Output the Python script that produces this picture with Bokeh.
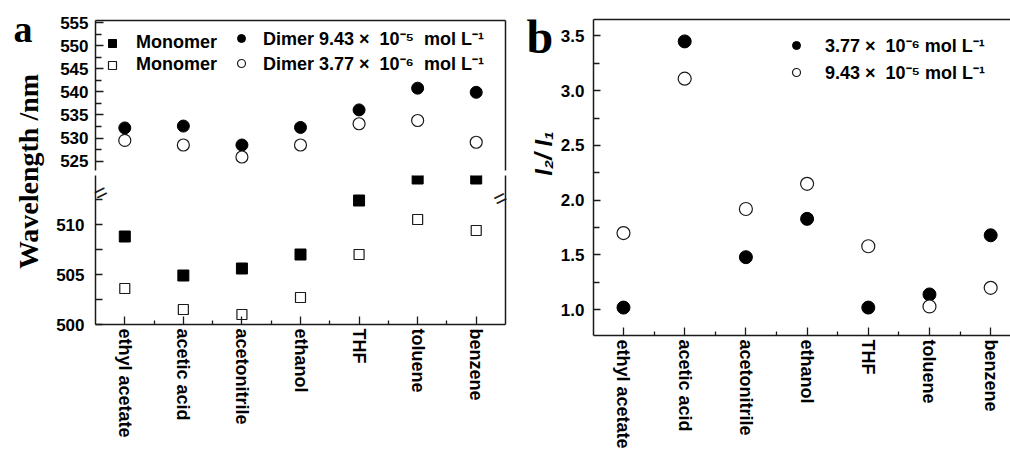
import math
from bokeh.plotting import figure
from bokeh.models import (ColumnDataSource, Range1d, FixedTicker, LinearAxis, Legend,
                          LegendItem, Label, NumeralTickFormatter)
from bokeh.layouts import row, column
from bokeh.embed import file_html
from bokeh.resources import INLINE

# ---------------- data ----------------
solvents = ["ethyl acetate", "acetic acid", "acetonitrile", "ethanol", "THF", "toluene", "benzene"]
monomer_943 = [508.8, 504.9, 505.6, 507.0, 512.4, 514.6, 514.6]
monomer_377 = [503.6, 501.5, 501.0, 502.7, 507.0, 510.5, 509.4]
dimer_943 = [532.2, 532.6, 528.5, 532.3, 536.1, 540.8, 539.9]
dimer_377 = [529.5, 528.5, 525.9, 528.5, 533.1, 533.8, 529.1]
ratio_377 = [1.02, 3.45, 1.48, 1.83, 1.02, 1.14, 1.68]
ratio_943 = [1.70, 3.11, 1.92, 2.15, 1.58, 1.03, 1.20]

wl_low_range = (500, 514.9)
wl_high_range = (522.98, 555.45)
wl_ticks_low = [500, 505, 510]
wl_minor_low = [502.5, 507.5, 512.5]
wl_ticks_high = [525, 530, 535, 540, 545, 550, 555]
wl_minor_high = [527.5, 532.5, 537.5, 542.5, 547.5, 552.5]
ratio_range = (0.765, 3.65)
ratio_ticks = [1.0, 1.5, 2.0, 2.5, 3.0, 3.5]
ratio_minor = [1.25, 1.75, 2.25, 2.75, 3.25]

lbl_mono = "Monomer"
lbl_d943 = "Dimer 9.43 \u00d7  10\u207b\u2075  mol L\u207b\u00b9"
lbl_d377 = "Dimer 3.77 \u00d7  10\u207b\u2076  mol L\u207b\u00b9"
lbl_r377 = "3.77 \u00d7  10\u207b\u2076 mol L\u207b\u00b9"
lbl_r943 = "9.43 \u00d7  10\u207b\u2075 mol L\u207b\u00b9"

idx = list(range(len(solvents)))
mid = [i + 0.5 for i in idx[:-1]]
src = ColumnDataSource(dict(x=idx, m943=monomer_943, m377=monomer_377,
                            d943=dimer_943, d377=dimer_377,
                            r377=ratio_377, r943=ratio_943))

SANS = "Liberation Sans"
SERIF = "Liberation Serif"
INK = "#1a1a1a"
H = 450
common = dict(output_backend="svg", toolbar_location=None, outline_line_color=None,
              background_fill_color="white", border_fill_color="white")


def style_axis(ax, tick_in=8, minor_in=6, size="17px"):
    ax.axis_line_color = INK
    ax.axis_line_width = 1.5
    ax.major_tick_line_color = INK
    ax.minor_tick_line_color = INK
    ax.major_tick_line_width = 1.3
    ax.minor_tick_line_width = 1.3
    ax.major_tick_in = tick_in
    ax.major_tick_out = 0
    ax.minor_tick_in = minor_in
    ax.minor_tick_out = 0
    ax.major_label_text_font = SANS
    ax.major_label_text_font_style = "bold"
    ax.major_label_text_font_size = size
    ax.major_label_text_color = "black"


def bare_axis():
    return LinearAxis(ticker=FixedTicker(ticks=[]), major_tick_in=0, major_tick_out=0,
                      minor_tick_in=0, minor_tick_out=0, major_label_standoff=0,
                      axis_line_color=INK, axis_line_width=1.5)


def break_axis():
    # axis without line/ticks whose only label is the "//" break symbol,
    # centred on the frame edge at the top of the lower range
    pos = wl_low_range[1] - 0.01
    return LinearAxis(ticker=FixedTicker(ticks=[pos]), major_label_overrides={pos: "="},
                      major_label_orientation=0.46, major_label_standoff=-11,
                      major_label_text_font=SANS, major_label_text_font_size="22px",
                      major_label_text_color=INK, axis_line_color=None,
                      major_tick_in=0, major_tick_out=0, minor_tick_in=0, minor_tick_out=0)


def text_fig(width):
    f = figure(frame_width=width, frame_height=H, min_border=0, x_range=Range1d(0, 1),
               y_range=Range1d(0, 1), x_axis_location=None, y_axis_location=None, **common)
    f.grid.visible = False
    return f


# ---------------- panel a texts ----------------
lab_a = text_fig(52)
lab_a.add_layout(Label(x=13, y=H - 9, x_units="screen", y_units="screen", text="a",
                       text_font=SERIF, text_font_style="bold", text_font_size="38px",
                       text_color="black", text_align="left", text_baseline="middle"))
lab_a.add_layout(Label(x=28, y=H - 152, x_units="screen", y_units="screen",
                       text="Wavelength /nm", angle=math.pi / 2, text_align="center",
                       text_baseline="middle", text_font=SERIF, text_font_style="bold",
                       text_font_size="28px", text_color="black"))

# ---------------- panel a: upper part ----------------
xr = Range1d(-0.5, 6.5)
up = figure(frame_width=410, frame_height=150, x_range=xr, y_range=Range1d(*wl_high_range),
            x_axis_location=None, min_border_left=43, min_border_right=12,
            min_border_top=20, min_border_bottom=1, **common)
up.grid.visible = False
up.yaxis.ticker = FixedTicker(ticks=wl_ticks_high, minor_ticks=wl_minor_high)
up.yaxis.major_label_standoff = 7
style_axis(up.yaxis[0])
up.add_layout(bare_axis(), "above")
up.add_layout(bare_axis(), "right")

# ---------------- panel a: lower part ----------------
lo = figure(frame_width=410, frame_height=149, x_range=xr, y_range=Range1d(*wl_low_range),
            min_border_left=43, min_border_right=12, min_border_top=4,
            min_border_bottom=H - 324, **common)
lo.grid.visible = False
# inner axis: axis line and tick marks only
ax_in = lo.yaxis[0]
ax_in.ticker = FixedTicker(ticks=[], minor_ticks=sorted(wl_ticks_low + wl_minor_low))
style_axis(ax_in, tick_in=7, minor_in=7)
ax_in.major_label_standoff = 0
# middle axis: the break symbol; outer axis: the numbers
lo.add_layout(break_axis(), "left")
ax_num = LinearAxis(ticker=FixedTicker(ticks=wl_ticks_low), major_label_standoff=-4)
style_axis(ax_num)
ax_num.axis_line_color = None
ax_num.major_tick_in = 0
ax_num.minor_tick_in = 0
lo.add_layout(ax_num, "left")

lo.xaxis.ticker = FixedTicker(ticks=idx, minor_ticks=mid)
lo.xaxis.major_label_overrides = {i: s for i, s in zip(idx, solvents)}
lo.xaxis.major_label_orientation = "vertical"
lo.xaxis.major_label_standoff = 4
style_axis(lo.xaxis[0], tick_in=8, minor_in=4, size="18px")
lo.add_layout(bare_axis(), "right")
lo.add_layout(break_axis(), "right")

# every series is drawn on both halves of the broken axis; each half clips to its range
rend = {}
for half, p in (("up", up), ("lo", lo)):
    rend[half, "m943"] = p.scatter("x", "m943", source=src, marker="square", size=11,
                                   fill_color="black", line_color="black")
    rend[half, "m377"] = p.scatter("x", "m377", source=src, marker="square", size=10,
                                   fill_color="white", line_color=INK, line_width=1.2)
    rend[half, "d943"] = p.scatter("x", "d943", source=src, marker="circle", size=12,
                                   fill_color="black", line_color="black")
    rend[half, "d377"] = p.scatter("x", "d377", source=src, marker="circle", size=12,
                                   fill_color="white", line_color=INK, line_width=1.2)

leg_kw = dict(orientation="vertical", padding=5, glyph_width=20, glyph_height=20,
              label_height=20, spacing=1, border_line_color=None, background_fill_alpha=0,
              label_text_font=SANS, label_text_font_style="bold", label_text_font_size="18px",
              label_text_color="black", margin=0)
leg1 = Legend(items=[LegendItem(label=lbl_mono, renderers=[rend["up", "m943"]]),
                     LegendItem(label=lbl_mono, renderers=[rend["up", "m377"]])],
              location=(7, 95), label_standoff=14, **leg_kw)
leg2 = Legend(items=[LegendItem(label=lbl_d943, renderers=[rend["up", "d943"]]),
                     LegendItem(label=lbl_d377, renderers=[rend["up", "d377"]])],
              location=(136, 95), label_standoff=12, **leg_kw)
up.add_layout(leg1)
up.add_layout(leg2)

# ---------------- panel b texts ----------------
lab_b = text_fig(36)
lab_b.add_layout(Label(x=6, y=H - 17, x_units="screen", y_units="screen", text="b",
                       text_font=SERIF, text_font_style="bold", text_font_size="48px",
                       text_color="black", text_align="left", text_baseline="middle"))
lab_b.add_layout(Label(x=23, y=H - 134, x_units="screen", y_units="screen",
                       text="I\u2082/ I\u2081", angle=math.pi / 2, text_align="center",
                       text_baseline="middle", text_font=SANS,
                       text_font_style="bold italic", text_font_size="24px",
                       text_color="black"))

# ---------------- panel b ----------------
pb = figure(frame_width=418, frame_height=316, x_range=Range1d(-0.49, 6.34),
            y_range=Range1d(*ratio_range), min_border_left=37, min_border_right=0,
            min_border_top=19, min_border_bottom=H - 335, **common)
pb.grid.visible = False
pb.yaxis.ticker = FixedTicker(ticks=ratio_ticks, minor_ticks=ratio_minor)
pb.yaxis.formatter = NumeralTickFormatter(format="0.0")
pb.yaxis.major_label_standoff = 9
style_axis(pb.yaxis[0], tick_in=7, minor_in=6)
pb.xaxis.ticker = FixedTicker(ticks=idx, minor_ticks=mid)
pb.xaxis.major_label_overrides = {i: s for i, s in zip(idx, solvents)}
pb.xaxis.major_label_orientation = "vertical"
pb.xaxis.major_label_standoff = 4
style_axis(pb.xaxis[0], tick_in=8, minor_in=4, size="18px")
pb.add_layout(bare_axis(), "above")

r_r377 = pb.scatter("x", "r377", source=src, marker="circle", size=13,
                    fill_color="black", line_color="black")
r_r943 = pb.scatter("x", "r943", source=src, marker="circle", size=13,
                    fill_color="white", line_color=INK, line_width=1.2)

leg_kw_b = dict(leg_kw)
leg_kw_b["spacing"] = 3
leg3 = Legend(items=[LegendItem(label=lbl_r377, renderers=[r_r377]),
                     LegendItem(label=lbl_r943, renderers=[r_r943])],
              location=(193, 251), label_standoff=19, **leg_kw_b)
pb.add_layout(leg3)

layout = row(lab_a, column(up, lo), lab_b, pb)
open("out.html", "w").write(file_html(layout, INLINE))
